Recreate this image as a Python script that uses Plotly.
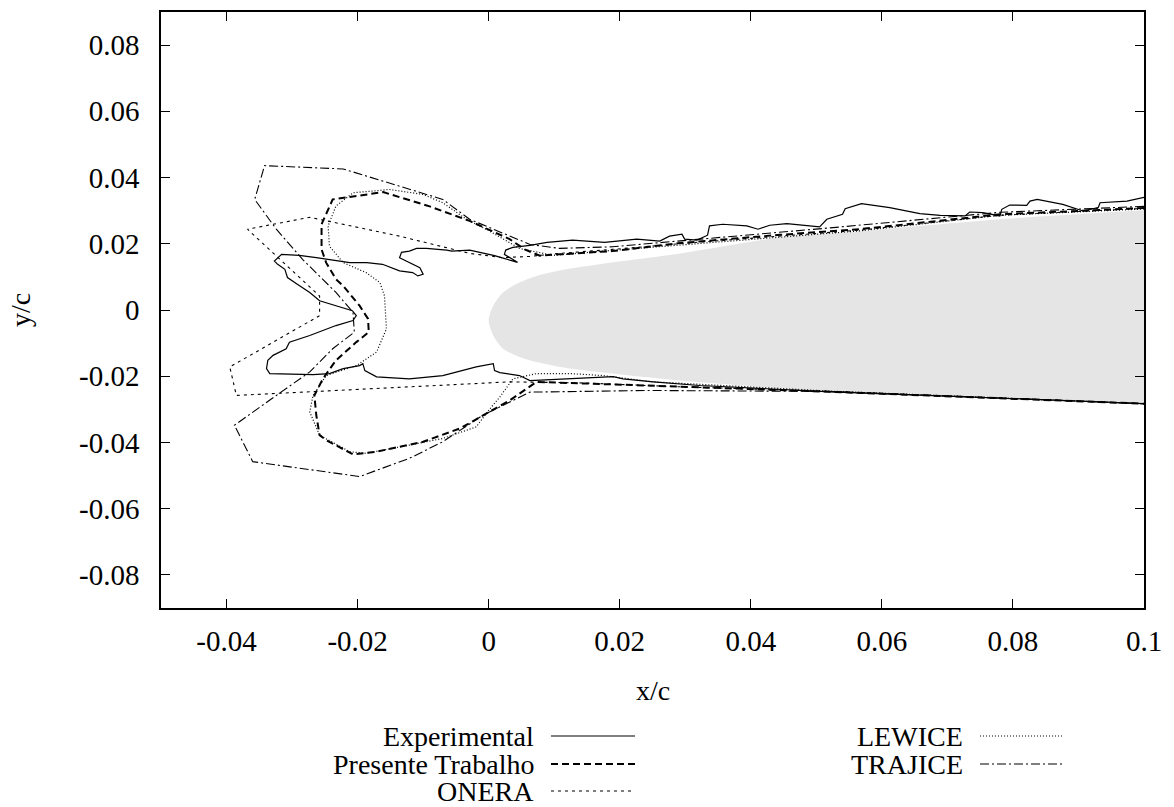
import plotly.graph_objects as go

# ---------------- data (x/c, y/c) ----------------
airfoil_x = [0.1, 0.078, 0.0566, 0.0444, 0.0276, 0.0175, 0.0124, 0.0073, 0.0047, 0.0022, 0.0007, 0.0,
             0.0007, 0.0022, 0.0047, 0.0073, 0.0124, 0.0175, 0.0276, 0.0444, 0.0521, 0.078, 0.1]
airfoil_y = [0.0301, 0.0274, 0.0238, 0.0219, 0.0166, 0.014, 0.0125, 0.0103, 0.0083, 0.0053, 0.0013, -0.0032,
             -0.0077, -0.0117, -0.0142, -0.0157, -0.0177, -0.0189, -0.021, -0.0236, -0.0244, -0.0263, -0.028]

exp_x = [0.1, 0.0974, 0.0933, 0.093, 0.0907, 0.0876, 0.0837, 0.0826, 0.0821, 0.0795, 0.0783, 0.078,
         0.0754, 0.0734, 0.0727, 0.0689, 0.0658, 0.0612, 0.0569, 0.0544, 0.054, 0.0516, 0.0505, 0.049,
         0.0455, 0.0429, 0.0411, 0.0394, 0.0357, 0.0337, 0.0334, 0.0318, 0.0299, 0.0295, 0.0276, 0.0261,
         0.0226, 0.0177, 0.0128, 0.0089, 0.0063, 0.0037, 0.0026, 0.0024, 0.0032, 0.0044, 0.0009, -0.0029,
         -0.0056, -0.0064, -0.0095, -0.011, -0.0121, -0.0133, -0.0136, -0.0121, -0.0105, -0.01, -0.0108,
         -0.0116, -0.0136, -0.0162, -0.0186, -0.0212, -0.0227, -0.0263, -0.0289, -0.0316, -0.0327, -0.0322,
         -0.0311, -0.0307, -0.0292, -0.0273, -0.0258, -0.0223, -0.0208, -0.0202, -0.0207, -0.0233, -0.0253,
         -0.0273, -0.0304, -0.0309, -0.0329, -0.0337, -0.0339, -0.0334, -0.0268, -0.0243, -0.0222, -0.0197,
         -0.0192, -0.0189, -0.0171, -0.0121, -0.007, -0.0019, 0.0007, 0.0009, 0.0017, 0.0047, 0.0063,
         0.0113, 0.0154, 0.019, 0.0205, 0.0231, 0.0251, 0.0322, 0.0521, 0.078, 0.1]
exp_y = [0.034, 0.0329, 0.0324, 0.0309, 0.0299, 0.0319, 0.0334, 0.0329, 0.0316, 0.0317, 0.0304, 0.0284,
         0.0294, 0.0296, 0.0284, 0.0286, 0.0291, 0.0309, 0.0321, 0.0306, 0.0289, 0.0274, 0.0251, 0.0254,
         0.0261, 0.0256, 0.0244, 0.0254, 0.0259, 0.0254, 0.0226, 0.0211, 0.0214, 0.0229, 0.0223, 0.0208,
         0.0214, 0.0204, 0.0211, 0.0204, 0.0195, 0.0189, 0.0181, 0.0168, 0.0158, 0.0144, 0.0164, 0.0181,
         0.0178, 0.0181, 0.0186, 0.0186, 0.0178, 0.0174, 0.0158, 0.0143, 0.0128, 0.0108, 0.0103,
         0.0113, 0.0118, 0.0138, 0.0143, 0.0143, 0.0148, 0.0158, 0.0165, 0.0168, 0.0148, 0.0138,
         0.0123, 0.0098, 0.0078, 0.0053, 0.0028, 0.0008, -0.0002, -0.0017, -0.0032, -0.0047, -0.0062,
         -0.0077, -0.0097, -0.0117, -0.0137, -0.0152, -0.0177, -0.0192, -0.0195, -0.0192, -0.0177, -0.0168,
         -0.0162, -0.0183, -0.0202, -0.0208, -0.0198, -0.0172, -0.0162, -0.0183, -0.0189, -0.0198, -0.0213,
         -0.0208, -0.0205, -0.0201, -0.0208, -0.0213, -0.0217, -0.0228, -0.0247, -0.0266, -0.0283]

pres_x = [0.1, 0.078, 0.0566, 0.0444, 0.0292, 0.0189, 0.0108, 0.0078, 0.0055, 0.0032, -0.0029, -0.009,
          -0.0161, -0.0238, -0.0255, -0.0255, -0.0248, -0.0233, -0.0222, -0.0207, -0.0197, -0.0184, -0.0183,
          -0.0202, -0.0233, -0.0253, -0.0266, -0.0263, -0.0258, -0.0248, -0.0207, -0.0171, -0.01, -0.0044,
          -0.0004, 0.0032, 0.0073, 0.019, 0.0292, 0.0521, 0.1]
pres_y = [0.0308, 0.0289, 0.0244, 0.0227, 0.0202, 0.0178, 0.0168, 0.0164, 0.0183, 0.0214, 0.0269, 0.0313,
          0.0356, 0.0334, 0.0259, 0.0183, 0.0143, 0.0093, 0.0073, 0.0038, 0.0013, -0.0027, -0.0067,
          -0.0097, -0.0152, -0.0208, -0.0258, -0.0318, -0.0378, -0.0393, -0.0436, -0.0428, -0.0398, -0.0358,
          -0.0313, -0.0273, -0.0217, -0.0225, -0.0232, -0.0247, -0.0283]

onera_x = [0.1, 0.078, 0.0566, 0.0322, 0.0189, 0.0108, 0.0063, 0.0021, -0.0029, -0.0136, -0.0273, -0.0368,
           -0.0258, -0.0258, -0.0395, -0.0385, 0.0032, 0.0139, 0.0292, 0.0521, 0.1]
onera_y = [0.0307, 0.0286, 0.0241, 0.0205, 0.0183, 0.0171, 0.0162, 0.0158, 0.0171, 0.0223, 0.028, 0.0244,
           0.0042, -0.0017, -0.0172, -0.0258, -0.0217, -0.022, -0.0232, -0.0246, -0.0283]

lew_x = [0.1, 0.078, 0.0566, 0.0322, 0.0189, 0.0098, 0.0047, 0.0002, -0.0034, -0.007, -0.01, -0.0151,
         -0.0207, -0.0233, -0.0245, -0.0243, -0.0222, -0.0187, -0.0166, -0.0159, -0.0156, -0.0171, -0.0202,
         -0.0248, -0.0268, -0.0273, -0.0258, -0.0212, -0.0187, -0.0121, -0.007, -0.0019, 0.0002, 0.0017,
         0.0037, 0.0073, 0.0124, 0.0175, 0.0251, 0.0521, 0.1]
lew_y = [0.0305, 0.0286, 0.0239, 0.0202, 0.018, 0.0165, 0.0186, 0.0238, 0.0274, 0.0324, 0.0349, 0.0364,
         0.0354, 0.0314, 0.0254, 0.0193, 0.0143, 0.0113, 0.0083, 0.0043, -0.0057, -0.0127, -0.0168,
         -0.0198, -0.0258, -0.0308, -0.0378, -0.0428, -0.0433, -0.0408, -0.0388, -0.0353, -0.0298, -0.0263,
         -0.0208, -0.0192, -0.0192, -0.0198, -0.0217, -0.0245, -0.0283]

traj_x = [0.1, 0.078, 0.0521, 0.0342, 0.0189, 0.0108, 0.0063, -0.0029, -0.007, -0.0222, -0.0342, -0.0357,
          -0.0324, -0.0284, -0.0258, -0.0233, -0.0207, -0.0205, -0.0238, -0.0273, -0.0324, -0.0388, -0.036,
          -0.0197, -0.0121, -0.007, -0.0009, 0.0022, 0.0063, 0.0241, 0.0521, 0.1]
traj_y = [0.0313, 0.0295, 0.0248, 0.0217, 0.0191, 0.0186, 0.0198, 0.0274, 0.0334, 0.0426, 0.0436, 0.0334,
          0.0244, 0.0153, 0.0103, 0.0053, -0.0007, -0.0067, -0.0117, -0.0187, -0.0258, -0.0348, -0.0458,
          -0.0503, -0.0448, -0.0398, -0.0318, -0.0288, -0.0248, -0.0243, -0.0246, -0.0283]

x_ticks = [-0.04, -0.02, 0, 0.02, 0.04, 0.06, 0.08, 0.1]
x_ticktext = ["-0.04", "-0.02", "0", "0.02", "0.04", "0.06", "0.08", "0.1"]
y_ticks = [-0.08, -0.06, -0.04, -0.02, 0, 0.02, 0.04, 0.06, 0.08]
y_ticktext = ["-0.08", "-0.06", "-0.04", "-0.02", "0", "0.02", "0.04", "0.06", "0.08"]

series_names = ["Experimental", "Presente Trabalho", "ONERA", "LEWICE", "TRAJICE"]

# ---------------- styles ----------------
FONT = "Liberation Serif"
FS = 28
styles = {
    "Experimental": dict(dash="solid", width=1.2),
    "Presente Trabalho": dict(dash="7px,4px", width=2.0),
    "ONERA": dict(dash="3px,4px", width=1.1),
    "LEWICE": dict(dash="1px,2px", width=1.2),
    "TRAJICE": dict(dash="9px,3px,2px,3px", width=1.1),
}
data = {
    "Experimental": (exp_x, exp_y),
    "Presente Trabalho": (pres_x, pres_y),
    "ONERA": (onera_x, onera_y),
    "LEWICE": (lew_x, lew_y),
    "TRAJICE": (traj_x, traj_y),
}

fig = go.Figure()
fig.add_trace(go.Scatter(x=airfoil_x, y=airfoil_y, mode="lines", fill="toself",
                         fillcolor="#e5e5e5", line=dict(width=0, color="#e5e5e5", shape="spline", smoothing=0.8),
                         hoverinfo="skip", showlegend=False))
for name in series_names:
    xs, ys = data[name]
    st = styles[name]
    fig.add_trace(go.Scatter(x=xs, y=ys, mode="lines", name=name, showlegend=False,
                             line=dict(color="black", width=st["width"], dash=st["dash"])))

L, R, T, B = 161, 30, 12, 199
W, H = 1174, 807
pw, ph = W - L - R, H - T - B

def px2paper_x(px):
    return (px - L) / pw

def py2paper_y(py):
    return (H - B - py) / ph

axis_common = dict(showline=True, linecolor="black", linewidth=1.5, mirror="ticks", ticks="inside",
                   ticklen=9, tickwidth=1.2, tickcolor="black", showgrid=False, zeroline=False,
                   tickfont=dict(family=FONT, size=FS + 1, color="black"))

fig.update_xaxes(range=[-0.05, 0.1], tickvals=x_ticks, ticktext=x_ticktext, ticklabelstandoff=6, **axis_common)
fig.update_yaxes(range=[-0.09, 0.09], tickvals=y_ticks, ticktext=y_ticktext, ticklabelstandoff=14, **axis_common)

annotations = [
    dict(text="x/c", x=0.5, y=py2paper_y(690), xref="paper", yref="paper", showarrow=False,
         xanchor="center", yanchor="middle", font=dict(family=FONT, size=FS, color="black")),
    dict(text="y/c", x=px2paper_x(20), y=0.5, xref="paper", yref="paper", showarrow=False, textangle=-90,
         xanchor="center", yanchor="middle", font=dict(family=FONT, size=FS, color="black")),
]
shapes = []
legend_pos = {
    "Experimental": (535, 736, 551, 635),
    "Presente Trabalho": (535, 764, 551, 635),
    "ONERA": (535, 791, 551, 635),
    "LEWICE": (964, 736, 980, 1064),
    "TRAJICE": (964, 764, 980, 1064),
}
for name in series_names:
    tx, ty, s0, s1 = legend_pos[name]
    annotations.append(dict(text=name, x=px2paper_x(tx), y=py2paper_y(ty), xref="paper", yref="paper",
                            showarrow=False, xanchor="right", yanchor="middle", borderpad=0,
                            font=dict(family=FONT, size=FS, color="black")))
    st = styles[name]
    shapes.append(dict(type="line", xref="paper", yref="paper", x0=px2paper_x(s0), x1=px2paper_x(s1),
                       y0=py2paper_y(ty), y1=py2paper_y(ty),
                       line=dict(color="black", width=st["width"], dash=st["dash"])))

fig.update_layout(width=W, height=H, margin=dict(l=L, r=R, t=T, b=B, autoexpand=False),
                  font=dict(family=FONT, size=FS, color="black"),
                  plot_bgcolor="white", paper_bgcolor="white", showlegend=False,
                  annotations=annotations, shapes=shapes)

fig.write_html("out.html")
